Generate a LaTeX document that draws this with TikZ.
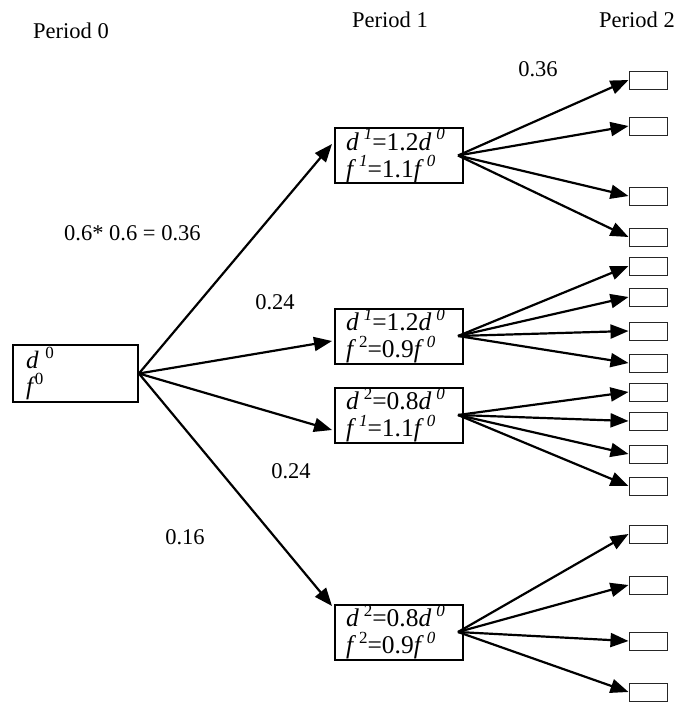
\documentclass[tikz,border=0pt]{standalone}
\usepackage{fontspec}
\setmainfont{Liberation Serif}
\usetikzlibrary{arrows.meta,calc}
\newcommand\spx[1]{\raisebox{0.4em}{\fontsize{17}{17}\selectfont\itshape #1}}
\newcommand\spu[1]{\raisebox{0.4em}{\fontsize{17}{17}\selectfont\upshape #1}}
\newcommand\dd{{\itshape d}\hspace{5pt}}
\newcommand\ff{{\itshape f}\hspace{6pt}}
\begin{document}
\begin{tikzpicture}[x=1pt,y=-1pt,
  every node/.style={font=\fontsize{22.5}{26}\selectfont},
  lbl/.style={inner sep=0pt},
  rootbox/.style={draw,line width=1.8pt,minimum width=125pt,minimum height=57pt,
    inner xsep=13pt,inner ysep=0pt,text width=99pt,align=left},
  pbox/.style={draw,line width=2pt,minimum width=128pt,minimum height=55pt,
    inner xsep=11pt,inner ysep=0pt,text width=106pt,align=left},
  leaf/.style={draw=black!85,line width=1pt,minimum width=38pt,minimum height=18pt,inner sep=0pt},
  arr/.style={line width=2.2pt,-{Triangle[length=18pt,width=14pt]}}
]
\useasboundingbox (0,0) rectangle (676,702);

% labels
\node[lbl] (p0) at (71,30.5) {Period 0};
\node[lbl] (p1) at (390,20) {Period 1};
\node[lbl] (p2) at (637,20) {Period 2};
\node[lbl] (l036) at (538,69) {0.36};
\node[lbl,anchor=west] (lprod) at (64,233) {0.6* 0.6 = 0.36};
\node[lbl] (l024a) at (275,302) {0.24};
\node[lbl] (l024b) at (291,471) {0.24};
\node[lbl] (l016) at (185,537) {0.16};

% root
\node[rootbox,font=\fontsize{25}{26}\selectfont] (r) at (75.5,373.5) {{\itshape d}\hspace{7pt}\spu{0}\\{\itshape f}\hspace{2pt}\spu{0}};

% period 1 boxes
\node[pbox,font=\fontsize{25.5}{27}\selectfont] (b1) at (399,155.5) {\dd\spx{1}=1.2\dd\spx{0}\\ \ff\spx{1}=1.1\ff\spx{0}};
\node[pbox,font=\fontsize{25.5}{27}\selectfont] (b2) at (399,336) {\dd\spx{1}=1.2\dd\spx{0}\\ \ff\spu{2}=0.9\ff\spx{0}};
\node[pbox,font=\fontsize{25.5}{27}\selectfont] (b3) at (399,415) {\dd\spu{2}=0.8\dd\spx{0}\\ \ff\spx{1}=1.1\ff\spx{0}};
\node[pbox,font=\fontsize{25.5}{27}\selectfont] (b4) at (399,632) {\dd\spu{2}=0.8\dd\spx{0}\\ \ff\spu{2}=0.9\ff\spx{0}};

% leaves
\foreach \n/\yy in {a1/80,a2/126,a3/196,a4/237,
                    c1/266,c2/297,c3/331,c4/363,
                    e1/392,e2/421,e3/454,e4/486,
                    g1/534,g2/585,g3/641,g4/692}
  \node[leaf] (\n) at (648,\yy) {};

% root arrows
\draw[arr] (r.east) -- ($(b1.west)+(-2,-11.5)$);
\draw[arr] (r.east) -- ($(b2.west)+(-2,5)$);
\draw[arr] (r.east) -- ($(b3.west)+(-2,15)$);
\draw[arr] (r.east) -- ($(b4.west)+(-2,-26)$);

% period 1 to period 2
\foreach \b/\g in {b1/a,b2/c,b3/e,b4/g}{
  \coordinate (\b o) at ($(\b.east)+(-6,0)$);
  \foreach \i in {1,2,3,4}
    \draw[arr] (\b o) -- (\g\i.west);
}
\end{tikzpicture}
\end{document}
